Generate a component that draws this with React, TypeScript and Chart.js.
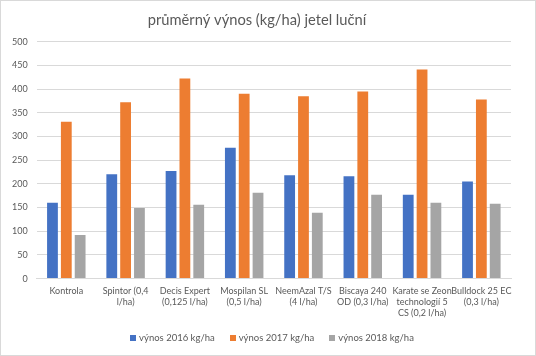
import React, { useEffect, useRef } from "react";
import { Chart, registerables } from "chart.js";

Chart.register(...registerables);

const categories: string[][] = [
  ["Kontrola"],
  ["Spintor (0,4", "l/ha)"],
  ["Decis Expert", "(0,125 l/ha)"],
  ["Mospilan SL", "(0,5 l/ha)"],
  ["NeemAzal T/S", "(4 l/ha)"],
  ["Biscaya 240", "OD (0,3 l/ha)"],
  ["Karate se Zeon", "technologií 5", "CS (0,2 l/ha)"],
  ["Bulldock 25 EC", "(0,3 l/ha)"],
];

const vynos2016 = [160, 220, 227, 276, 218, 216, 177, 205];
const vynos2017 = [331, 372, 422, 390, 385, 395, 441, 378];
const vynos2018 = [92, 149, 156, 181, 139, 177, 160, 158];

const seriesNames = ["výnos 2016 kg/ha", "výnos 2017 kg/ha", "výnos 2018 kg/ha"];
const seriesColors = ["#4472C4", "#ED7D31", "#A5A5A5"];
const titleText = "průměrný výnos (kg/ha) jetel luční";

const FONT = "Lato, 'Liberation Sans', sans-serif";
const TEXT = "#595959";

// Bottom legend drawn by a small Chart.js plugin (independent horizontal/vertical spacing)
const bottomLegend = {
  id: "bottomLegend",
  afterDraw(chart: any) {
    const ctx = chart.ctx as CanvasRenderingContext2D;
    const area = chart.chartArea;
    const box = 6;
    const boxGap = 3;
    const itemGap = 15;
    ctx.save();
    ctx.font = `9.5px ${FONT}`;
    ctx.textBaseline = "middle";
    ctx.textAlign = "left";
    const items = chart.data.datasets.map((ds: any) => ({
      text: String(ds.label),
      color: ds.backgroundColor as string,
      w: ctx.measureText(String(ds.label)).width,
    }));
    const total =
      items.reduce((s: number, it: any) => s + box + boxGap + it.w, 0) +
      itemGap * (items.length - 1);
    let x = chart.width / 2 + 4 - total / 2;
    const y = area.bottom + 59;
    for (const it of items) {
      ctx.fillStyle = it.color;
      ctx.fillRect(Math.round(x), Math.round(y - box / 2), box, box);
      ctx.fillStyle = TEXT;
      ctx.fillText(it.text, x + box + boxGap, y);
      x += box + boxGap + it.w + itemGap;
    }
    ctx.restore();
  },
};

export default function App() {
  const ref = useRef<HTMLCanvasElement | null>(null);

  useEffect(() => {
    if (!ref.current) return;
    const chart = new Chart(ref.current, {
      type: "bar",
      data: {
        labels: categories,
        datasets: [
          { label: seriesNames[0], data: vynos2016, backgroundColor: seriesColors[0] },
          { label: seriesNames[1], data: vynos2017, backgroundColor: seriesColors[1] },
          { label: seriesNames[2], data: vynos2018, backgroundColor: seriesColors[2] },
        ],
      },
      plugins: [bottomLegend],
      options: {
        animation: false,
        responsive: false,
        maintainAspectRatio: false,
        layout: { padding: { left: 2, right: 24, top: 4, bottom: 30 } },
        datasets: { bar: { categoryPercentage: 0.7, barPercentage: 0.78 } },
        plugins: {
          title: {
            display: true,
            text: titleText,
            color: TEXT,
            font: { family: FONT, size: 14.7, weight: "normal" },
            padding: { top: 6, bottom: 13 },
          },
          legend: { display: false },
          tooltip: { enabled: false },
        },
        scales: {
          x: {
            grid: { display: false, drawTicks: false },
            border: { display: true, color: "#d9d9d9" },
            ticks: {
              color: TEXT,
              font: { family: FONT, size: 9 },
              maxRotation: 0,
              autoSkip: false,
              padding: 7,
            },
          },
          y: {
            min: 0,
            max: 500,
            grid: { color: "#d9d9d9", drawTicks: false },
            border: { display: false },
            ticks: {
              stepSize: 50,
              color: TEXT,
              font: { family: FONT, size: 9 },
              padding: 9,
            },
          },
        },
      },
    });
    return () => chart.destroy();
  }, []);

  return (
    <div
      style={{
        position: "fixed",
        left: 0,
        top: 0,
        width: 536,
        height: 356,
        boxSizing: "border-box",
        border: "1px solid #d9d9d9",
        background: "#fff",
      }}
    >
      <canvas ref={ref} width={534} height={354} style={{ display: "block" }} />
    </div>
  );
}
